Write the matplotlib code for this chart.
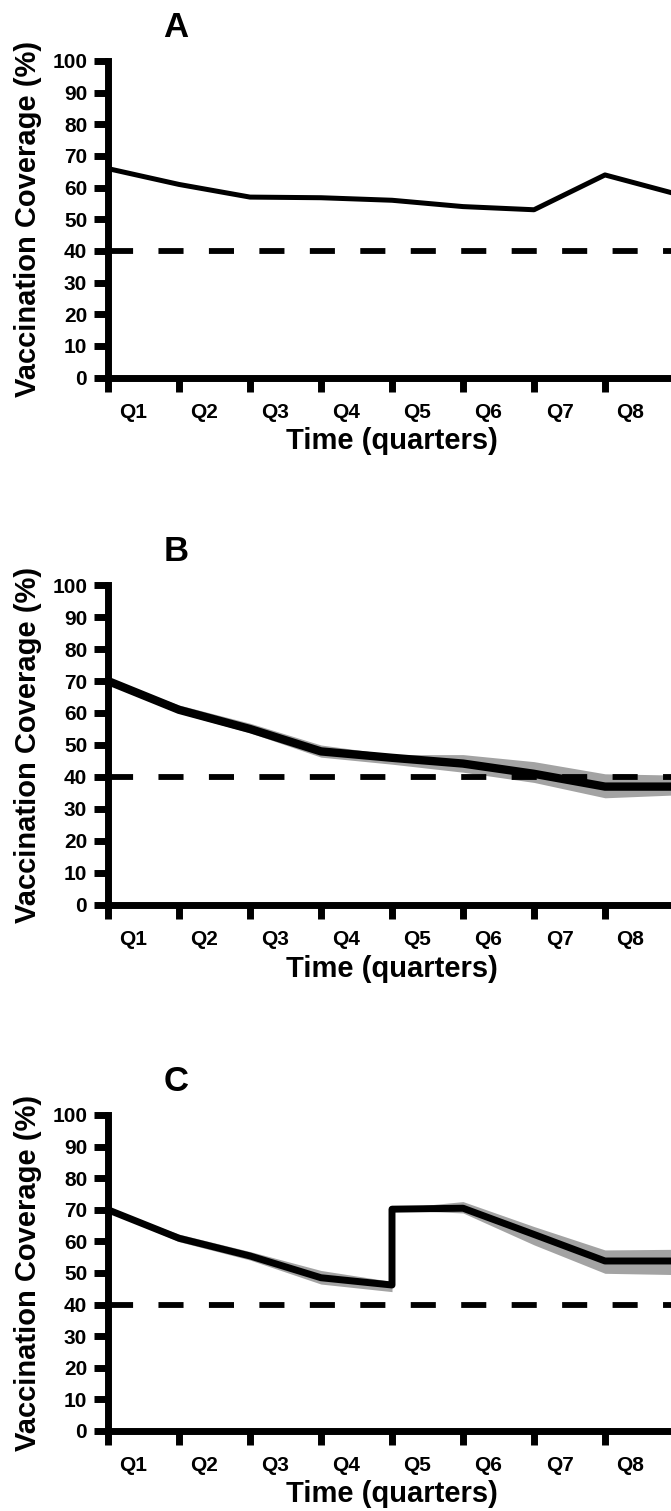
import numpy as np
import matplotlib
matplotlib.use('Agg')
from matplotlib import pyplot as plt

plt.rcParams['font.family'] = ['Liberation Sans', 'DejaVu Sans']
plt.rcParams['font.weight'] = 'bold'
plt.rcParams['axes.labelweight'] = 'bold'

# quarter boundaries (Q1 starts at 0)
quarters = ['Q1', 'Q2', 'Q3', 'Q4', 'Q5', 'Q6', 'Q7', 'Q8']
threshold = 40

# panel A: observed coverage
a_x = [0, 1, 2, 3, 4, 5, 6, 7, 8]
a_cov = [66, 61, 57, 56.8, 56, 54, 53, 64, 58]

# panel B: simulated mean and range
b_x = [0, 1, 2, 3, 4, 5, 6, 7, 8]
b_mean = [70, 61, 55, 48, 46, 44.2, 41, 37, 37]
b_upper = [70.5, 62.5, 56.8, 50, 47, 47, 44.8, 41, 40.6]
b_lower = [69.5, 60, 53.8, 46.2, 44, 41.5, 38.3, 33.5, 34.4]

# panel C: simulated mean and range, with catch-up at Q5
c_x = [0, 1, 2, 3, 4, 4, 5, 6, 7, 8]
c_mean = [70, 61, 55.4, 48.5, 46.2, 70.2, 70.5, 62.2, 53.8, 53.8]
c_upper = [70.4, 62.3, 56.8, 50.8, 47.3, 70.4, 72.6, 64.7, 57.3, 57.5]
c_lower = [69.6, 59.9, 54.1, 46.5, 44.1, 70.0, 69.0, 58.9, 49.9, 49.5]

W, H = 671, 1511
fig = plt.figure(figsize=(W / 100, H / 100), dpi=100)

# axes boxes in pixels: (left, top, right, bottom)
boxes = [(108, 61, 676, 377.5), (108, 585, 676, 905), (108, 1115, 676, 1431)]
letters = ['A', 'B', 'C']
gray = '#a3a3a3'


def make_axes(box):
    l, t, r, b = box
    ax = fig.add_axes([l / W, 1 - b / H, (r - l) / W, (b - t) / H])
    ax.set_xlim(0, 8)
    ax.set_ylim(0, 100)
    for s in ['top', 'right']:
        ax.spines[s].set_visible(False)
    for s in ['left', 'bottom']:
        ax.spines[s].set_linewidth(5)
    ax.set_yticks(np.arange(0, 101, 10))
    ax.set_xticks(np.arange(0, 9))
    ax.set_xticklabels([])
    ax.set_xticks(np.arange(8) + 0.36, quarters, minor=True)
    ax.tick_params(which='major', direction='out', length=10, width=5,
                   labelsize=15, pad=5)
    ax.tick_params(axis='x', which='minor', length=0, labelsize=15, pad=18)
    ax.set_ylabel('Vaccination Coverage (%)', fontsize=21, va='center')
    ax.yaxis.set_label_coords(-0.141, 0.5)
    ax.set_xlabel('Time (quarters)', fontsize=21, va='center')
    ax.xaxis.set_label_coords(0.5, -0.2)
    ax.axhline(threshold, color='black', lw=4.2, dashes=(4.3, 4.35),
               solid_capstyle='butt', dash_capstyle='butt', zorder=2)
    return ax


axes = [make_axes(b) for b in boxes]
for ax, letter in zip(axes, letters):
    ax.text(0.12, 1.105, letter, transform=ax.transAxes, fontsize=25,
            fontweight='bold', ha='center', va='center')

axes[0].plot(a_x, a_cov, color='black', lw=3.6, zorder=3)

axes[1].fill_between(b_x, b_lower, b_upper, color=gray, lw=0, zorder=1)
axes[1].plot(b_x, b_mean, color='black', lw=6, zorder=3)

axes[2].fill_between(c_x, c_lower, c_upper, color=gray, lw=0, zorder=1)
axes[2].plot(c_x, c_mean, color='black', lw=5, zorder=3)

fig.savefig('out.png', dpi=100)
